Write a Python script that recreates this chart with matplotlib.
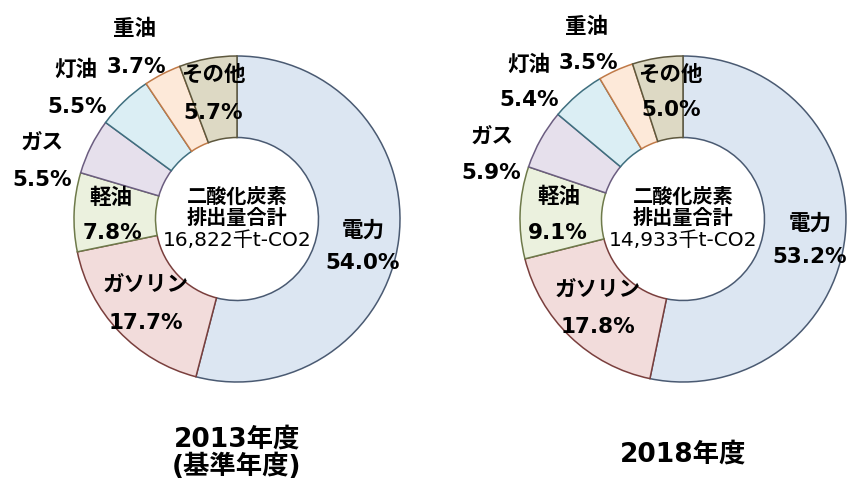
import matplotlib
matplotlib.use("Agg")
from matplotlib import pyplot as plt

plt.rcParams['font.family'] = ['DejaVu Sans', 'Noto Sans CJK JP']

# Data
categories = ["電力", "ガソリン", "軽油", "ガス", "灯油", "重油", "その他"]
share_2013 = [54.0, 17.7, 7.8, 5.5, 5.5, 3.7, 5.7]
share_2018 = [53.2, 17.8, 9.1, 5.9, 5.4, 3.5, 5.0]
total_2013 = "16,822千t-CO2"
total_2018 = "14,933千t-CO2"
titles = ["2013年度\n(基準年度)", "2018年度"]

face_colors = ["#DCE6F2", "#F2DCDB", "#EBF1DE", "#E6E0EC", "#DBEEF4", "#FDE9D9", "#DDD9C4"]
edge_colors = ["#4A5A72", "#7A3F3D", "#6E7A4A", "#6B5D80", "#3F6F7F", "#C07A48", "#5E583E"]

W, H = 849, 484
R_PX = 163  # outer radius in pixels

# label positions in pixels: (name_xy, value_xy) per category
label_pos_2013 = [((363, 230), (363, 263)), ((146, 285), (146, 323)), ((111, 198), (112, 233)),
                  ((42, 143), (42, 180)), ((76, 70), (77, 107)), ((135, 29), (136, 67)),
                  ((213, 75), (213, 113))]
label_pos_2018 = [((810, 223), (810, 257)), ((598, 290), (598, 327)), ((559, 197), (558, 233)),
                  ((492, 137), (491, 173)), ((529, 65), (529, 100)), ((587, 27), (588, 63)),
                  ((670, 75), (671, 110))]


def draw_donut(fig, cx, cy, shares, total, title, title_y, label_pos):
    half = 1.05
    size = 2 * half * R_PX
    ax = fig.add_axes([(cx - size / 2) / W, (H - cy - size / 2) / H, size / W, size / H])
    ax.pie(shares, startangle=90, counterclock=False, radius=1,
           colors=face_colors,
           wedgeprops=dict(width=0.5, linewidth=1.1))
    for w, ec in zip(ax.patches, edge_colors):
        w.set_edgecolor(ec)
    ax.set_xlim(-half, half)
    ax.set_ylim(-half, half)
    ax.set_aspect("equal")
    ax.axis("off")

    # center text
    for i, line in enumerate(["二酸化炭素", "排出量合計", total]):
        fig.text(cx / W, 1 - (197 + 21.5 * i) / H, line, ha="center", va="center",
                 fontsize=14.5, fontweight="bold" if i < 2 else "normal")

    # wedge labels
    for name, val, (p1, p2) in zip(categories, shares, label_pos):
        fig.text(p1[0] / W, 1 - p1[1] / H, name, ha="center", va="center",
                 fontsize=15.5, fontweight="bold")
        fig.text(p2[0] / W, 1 - p2[1] / H, f"{val:.1f}%", ha="center", va="center",
                 fontsize=15.5, fontweight="bold")

    fig.text(cx / W, 1 - title_y / H, title, ha="center", va="center",
             fontsize=19, fontweight="bold", linespacing=1.05)


def main():
    fig = plt.figure(figsize=(W / 100, H / 100), dpi=100)
    draw_donut(fig, 237, 219, share_2013, total_2013, titles[0], 453, label_pos_2013)
    draw_donut(fig, 683, 219, share_2018, total_2018, titles[1], 455, label_pos_2018)
    fig.savefig("out.png", dpi=100)


if __name__ == "__main__":
    main()
